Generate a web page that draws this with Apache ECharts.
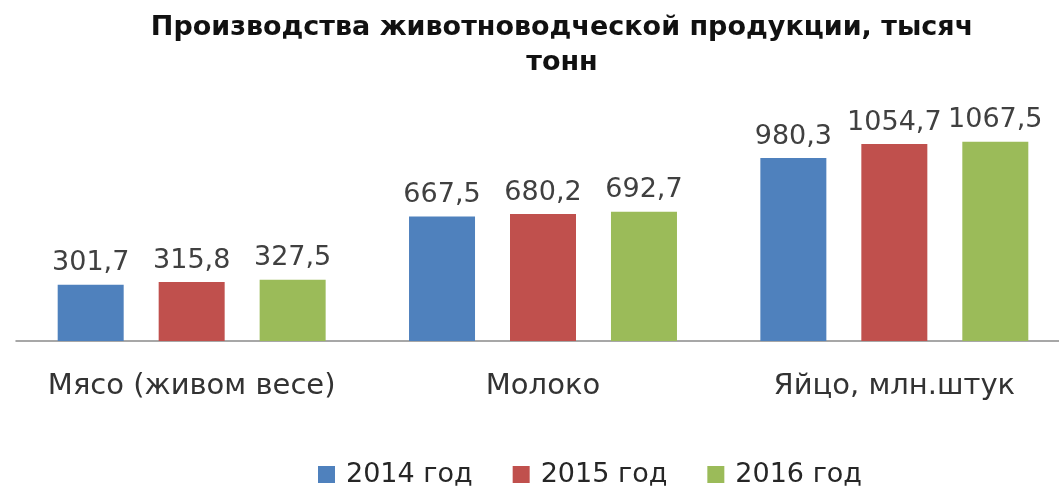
<!DOCTYPE html>
<html>
<head>
<meta charset="utf-8">
<script src="https://cdn.jsdelivr.net/npm/echarts@6/dist/echarts.min.js"></script>
<style>
  html, body { margin: 0; padding: 0; background: #ffffff; }
  #chart { width: 1059px; height: 487px; }
</style>
</head>
<body>
<div id="chart"></div>
<script>
// Категории продукции и значения по годам
const categories = ['Мясо (живом весе)', 'Молоко', 'Яйцо, млн.штук'];
const years = ['2014 год', '2015 год', '2016 год'];
const values2014 = [301.7, 667.5, 980.3];
const values2015 = [315.8, 680.2, 1054.7];
const values2016 = [327.5, 692.7, 1067.5];
const colors = ['#4F81BD', '#C0504D', '#9BBB59'];

const FONT = 'DejaVu Sans';

function fmt(v) {
  return v.toFixed(1).replace('.', ',');
}

function makeSeries(name, data, color) {
  return {
    name: name,
    type: 'bar',
    data: data,
    barWidth: 66,
    barGap: '53%',
    itemStyle: { color: color },
    label: {
      show: true,
      position: 'top',
      distance: 8,
      color: '#404040',
      fontFamily: FONT,
      fontSize: 27,
      formatter: p => fmt(p.value)
    }
  };
}

const chart = echarts.init(document.getElementById('chart'), null, { renderer: 'canvas' });
chart.setOption({
  animation: false,
  backgroundColor: '#ffffff',
  title: {
    text: 'Производства животноводческой продукции, тысяч\nтонн',
    left: 557,
    top: 5,
    textAlign: 'center',
    textStyle: {
      fontFamily: FONT,
      fontWeight: 'bold',
      fontSize: 27,
      lineHeight: 35,
      color: '#111111'
    }
  },
  legend: {
    data: years,
    left: 313,
    top: 456,
    icon: 'rect',
    itemWidth: 17,
    itemHeight: 17,
    itemGap: 40,
    textStyle: {
      fontFamily: FONT,
      fontSize: 27,
      color: '#262626',
      padding: [0, 0, 0, 6]
    }
  },
  grid: {
    left: 16,
    width: 1054,
    top: 117,
    bottom: 146,
    containLabel: false,
    outerBoundsMode: 'none'
  },
  xAxis: {
    type: 'category',
    data: categories,
    axisLine: { show: true, lineStyle: { color: '#8a8a8a', width: 1.5 } },
    axisTick: { show: false },
    axisLabel: {
      margin: 31,
      fontFamily: FONT,
      fontSize: 29,
      color: '#333333',
      interval: 0
    }
  },
  yAxis: {
    type: 'value',
    min: 0,
    max: 1200,
    show: false,
    splitLine: { show: false }
  },
  series: [
    makeSeries(years[0], values2014, colors[0]),
    makeSeries(years[1], values2015, colors[1]),
    makeSeries(years[2], values2016, colors[2])
  ]
});
</script>
</body>
</html>
